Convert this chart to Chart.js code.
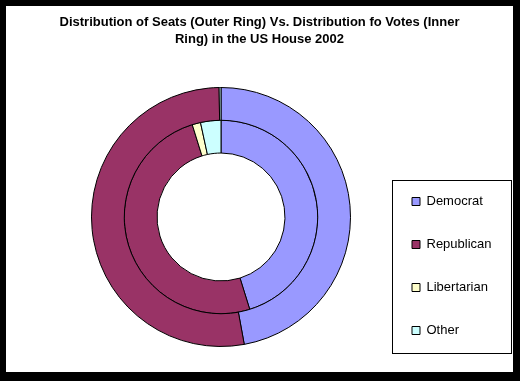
<!DOCTYPE html>
<html>
<head>
<meta charset="utf-8">
<script src="https://cdn.jsdelivr.net/npm/chart.js@4/dist/chart.umd.min.js"></script>
<style>
  html, body { margin: 0; padding: 0; background: #000; }
  #frame { position: relative; width: 520px; height: 381px; background: #000; }
  #c { position: absolute; left: 6px; top: 6px; background: #fff; }
</style>
</head>
<body>
<div id="frame"><canvas id="c" width="507" height="366"></canvas></div>
<script>
// ---- data ----
const categories = ['Democrat', 'Republican', 'Libertarian', 'Other'];
const seats = [205, 229, 0, 1];          // outer ring: seats won
const votes = [45.2, 50.0, 1.4, 3.4];    // inner ring: % of votes
const titleLines = ['Distribution of Seats (Outer Ring) Vs. Distribution fo Votes (Inner', 'Ring) in the US House 2002'];

const colors = ['#9999FF', '#993366', '#FFFFCC', '#CCFFFF'];

const FONT = '"Liberation Sans", Arial, sans-serif';

const layoutFix = {
  id: 'layoutFix',
  afterLayout(chart) {
    const t = chart.titleBlock;
    t.left = 0; t.right = chart.width; t.width = chart.width;
    const lg = chart.legend;
    lg.left = 376; lg.right = chart.width; lg.width = lg.right - lg.left;
    lg.top = 159; lg.bottom = chart.height; lg.height = lg.bottom - lg.top;
  },
  afterDraw(chart) {
    const ctx = chart.ctx;
    ctx.save();
    ctx.strokeStyle = '#000';
    ctx.lineWidth = 1;
    ctx.strokeRect(386.5, 174.5, 119, 173);
    ctx.restore();
  }
};

Chart.defaults.color = '#000';
Chart.defaults.font.family = FONT;

new Chart(document.getElementById('c'), {
  type: 'doughnut',
  data: {
    labels: categories,
    datasets: [
      { label: 'Seats', data: seats, backgroundColor: colors, borderColor: '#000', borderWidth: 1 },
      { label: 'Votes', data: votes, backgroundColor: colors, borderColor: '#000', borderWidth: 1 }
    ]
  },
  options: {
    responsive: false,
    animation: false,
    devicePixelRatio: 1,
    radius: 129.5,
    cutout: '49.4%',
    layout: { padding: { left: 20, right: 97, top: 0, bottom: 6 } },
    plugins: {
      title: {
        display: true,
        text: titleLines,
        color: '#000',
        font: { family: FONT, size: 13, weight: 'bold', lineHeight: '17px' },
        padding: { top: 8, bottom: 20 }
      },
      legend: {
        display: true,
        position: 'chartArea',
        align: 'start',
        labels: {
          boxWidth: 8,
          boxHeight: 8,
          padding: 30,
          color: '#000',
          font: { family: FONT, size: 13 }
        }
      },
      tooltip: { enabled: false }
    }
  },
  plugins: [layoutFix]
});
</script>
</body>
</html>
